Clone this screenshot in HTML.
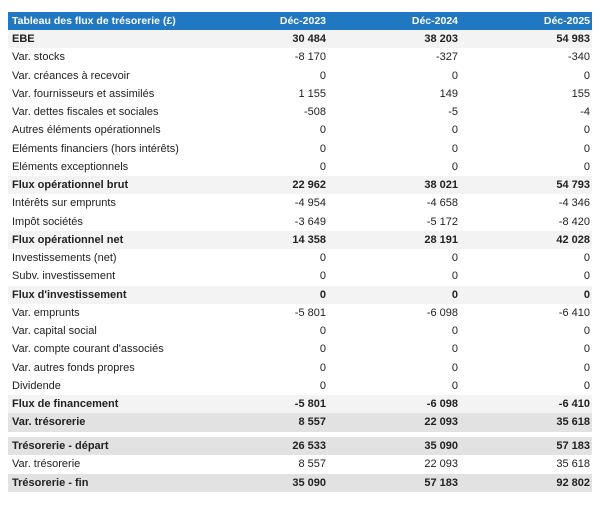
<!DOCTYPE html>
<html><head><style>
body{margin:0;width:600px;height:507px;background:#fff;font-family:"Liberation Sans",Arial,sans-serif;font-size:11px;color:#222;position:relative;overflow:hidden}
.r{position:absolute;left:8px;width:584px;height:18.25px;line-height:18.25px}
.r span{position:absolute;top:0}
.l{left:4px}
.a{right:266px}.b{right:134px}.c{right:2px}
.h{background:#1f78c1;color:#fff;font-weight:bold;height:18px;line-height:18px;font-size:10.5px}
.bo{font-weight:bold;background:#f3f3f3}
.dk{font-weight:bold;background:#e2e2e2}
</style></head><body>
<div class="r h" style="top:12px"><span class="l">Tableau des flux de trésorerie (£)</span><span class="a">Déc-2023</span><span class="b">Déc-2024</span><span class="c">Déc-2025</span></div>
<div class="r bo" style="top:30px"><span class="l">EBE</span><span class="a">30 484</span><span class="b">38 203</span><span class="c">54 983</span></div>
<div class="r" style="top:48.25px"><span class="l">Var. stocks</span><span class="a">-8 170</span><span class="b">-327</span><span class="c">-340</span></div>
<div class="r" style="top:66.5px"><span class="l">Var. créances à recevoir</span><span class="a">0</span><span class="b">0</span><span class="c">0</span></div>
<div class="r" style="top:84.75px"><span class="l">Var. fournisseurs et assimilés</span><span class="a">1 155</span><span class="b">149</span><span class="c">155</span></div>
<div class="r" style="top:103px"><span class="l">Var. dettes fiscales et sociales</span><span class="a">-508</span><span class="b">-5</span><span class="c">-4</span></div>
<div class="r" style="top:121.25px"><span class="l">Autres éléments opérationnels</span><span class="a">0</span><span class="b">0</span><span class="c">0</span></div>
<div class="r" style="top:139.5px"><span class="l">Eléments financiers (hors intérêts)</span><span class="a">0</span><span class="b">0</span><span class="c">0</span></div>
<div class="r" style="top:157.75px"><span class="l">Eléments exceptionnels</span><span class="a">0</span><span class="b">0</span><span class="c">0</span></div>
<div class="r bo" style="top:176px"><span class="l">Flux opérationnel brut</span><span class="a">22 962</span><span class="b">38 021</span><span class="c">54 793</span></div>
<div class="r" style="top:194.25px"><span class="l">Intérêts sur emprunts</span><span class="a">-4 954</span><span class="b">-4 658</span><span class="c">-4 346</span></div>
<div class="r" style="top:212.5px"><span class="l">Impôt sociétés</span><span class="a">-3 649</span><span class="b">-5 172</span><span class="c">-8 420</span></div>
<div class="r bo" style="top:230.75px"><span class="l">Flux opérationnel net</span><span class="a">14 358</span><span class="b">28 191</span><span class="c">42 028</span></div>
<div class="r" style="top:249px"><span class="l">Investissements (net)</span><span class="a">0</span><span class="b">0</span><span class="c">0</span></div>
<div class="r" style="top:267.25px"><span class="l">Subv. investissement</span><span class="a">0</span><span class="b">0</span><span class="c">0</span></div>
<div class="r bo" style="top:285.5px"><span class="l">Flux d'investissement</span><span class="a">0</span><span class="b">0</span><span class="c">0</span></div>
<div class="r" style="top:303.75px"><span class="l">Var. emprunts</span><span class="a">-5 801</span><span class="b">-6 098</span><span class="c">-6 410</span></div>
<div class="r" style="top:322px"><span class="l">Var. capital social</span><span class="a">0</span><span class="b">0</span><span class="c">0</span></div>
<div class="r" style="top:340.25px"><span class="l">Var. compte courant d'associés</span><span class="a">0</span><span class="b">0</span><span class="c">0</span></div>
<div class="r" style="top:358.5px"><span class="l">Var. autres fonds propres</span><span class="a">0</span><span class="b">0</span><span class="c">0</span></div>
<div class="r" style="top:376.75px"><span class="l">Dividende</span><span class="a">0</span><span class="b">0</span><span class="c">0</span></div>
<div class="r bo" style="top:395px"><span class="l">Flux de financement</span><span class="a">-5 801</span><span class="b">-6 098</span><span class="c">-6 410</span></div>
<div class="r dk" style="top:413.25px"><span class="l">Var. trésorerie</span><span class="a">8 557</span><span class="b">22 093</span><span class="c">35 618</span></div>
<div class="r dk" style="top:437px"><span class="l">Trésorerie - départ</span><span class="a">26 533</span><span class="b">35 090</span><span class="c">57 183</span></div>
<div class="r" style="top:455.25px"><span class="l">Var. trésorerie</span><span class="a">8 557</span><span class="b">22 093</span><span class="c">35 618</span></div>
<div class="r dk" style="top:473.5px"><span class="l">Trésorerie - fin</span><span class="a">35 090</span><span class="b">57 183</span><span class="c">92 802</span></div>
</body></html>
